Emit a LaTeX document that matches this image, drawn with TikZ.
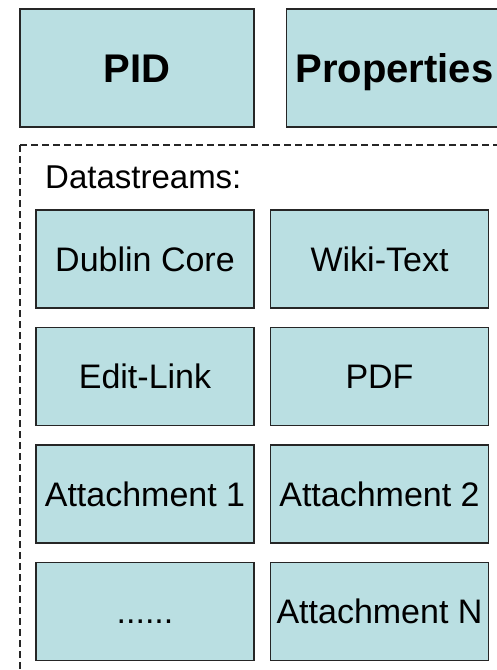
\documentclass[tikz,border=0pt]{standalone}
\usepackage{fontspec}
\setmainfont{Liberation Sans}
\usetikzlibrary{positioning}
\definecolor{boxfill}{RGB}{186,223,226}

\begin{document}
\begin{tikzpicture}[x=1pt,y=-1pt,node distance=18pt and 15pt,
    ds/.style={draw=black!85,line width=1.5pt,fill=boxfill,minimum width=218pt,minimum height=98pt,inner sep=0pt,text height=24pt,text depth=0pt,font=\fontsize{34}{40}\selectfont},
    head/.style={ds,minimum height=118pt,text height=28pt,font=\fontsize{40}{46}\selectfont\bfseries}]
    \clip (0,0) rectangle (497,670);

    \node (pid) at (137,68) [head,minimum width=234pt] {PID};
    \node (props) [head,minimum width=216pt,right=31pt of pid] {Properties};

    \draw[black!85,line width=1.5pt,dash pattern=on 7pt off 4pt] (20,145) rectangle (530,700);
    \node (dslabel) at (45,188) [anchor=base west,inner sep=0pt,font=\fontsize{33}{40}\selectfont] {Datastreams:};

    \node (dc) at (145,259) [ds] {Dublin Core};
    \node (wiki) [ds,right=of dc] {Wiki-Text};
    \node (edit) [ds,below=of dc] {Edit-Link};
    \node (pdf) [ds,right=of edit] {PDF};
    \node (att1) [ds,below=of edit] {Attachment 1};
    \node (att2) [ds,right=of att1] {Attachment 2};
    \node (more) [ds,below=of att1] {......};
    \node (attn) [ds,right=of more] {Attachment N};
\end{tikzpicture}
\end{document}
